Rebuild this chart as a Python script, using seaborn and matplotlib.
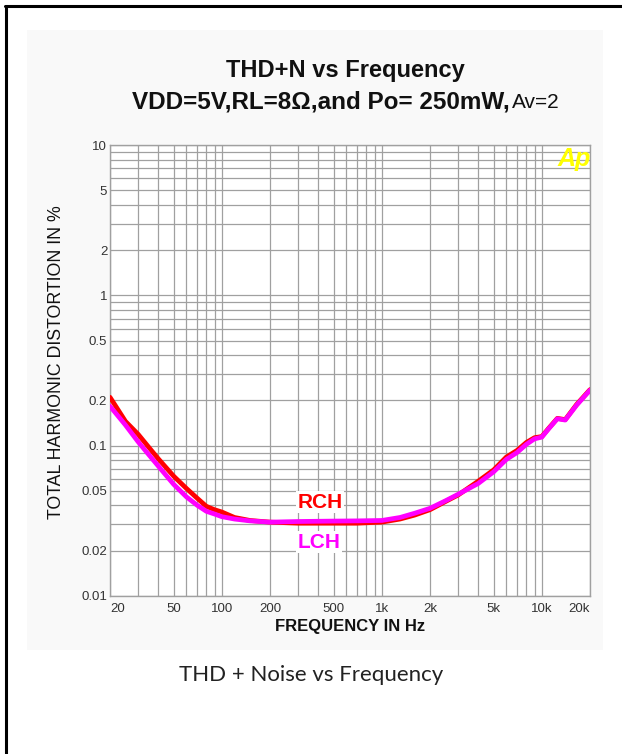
import matplotlib
matplotlib.use("Agg")
import matplotlib.pyplot as plt
import matplotlib.ticker as mticker
import pandas as pd
import seaborn as sns

# frequency points (Hz)
freq = [20, 25, 30, 35, 40, 50, 60, 70, 80, 90, 100, 120, 150, 200, 300, 500,
        700, 1000, 1300, 1600, 2000, 2500, 3000, 4000, 5000, 6000, 7000, 8000,
        9000, 10000, 11000, 12500, 14000, 16500, 20000]

# THD+N in %
rch = [0.21, 0.145, 0.119, 0.0974, 0.082, 0.0627, 0.052, 0.0448, 0.0395, 0.0375,
       0.0362, 0.0333, 0.0318, 0.031, 0.0305, 0.0305, 0.0305, 0.031, 0.0325,
       0.0345, 0.0375, 0.0425, 0.047, 0.058, 0.069, 0.084, 0.093, 0.105, 0.113,
       0.115, 0.13, 0.152, 0.149, 0.188, 0.236]
lch = [0.183, 0.137, 0.106, 0.0869, 0.0733, 0.0553, 0.0457, 0.0402, 0.0366,
       0.0351, 0.0337, 0.0325, 0.0316, 0.031, 0.0313, 0.0315, 0.0316, 0.0318,
       0.0333, 0.0355, 0.0383, 0.043, 0.0475, 0.056, 0.067, 0.081, 0.090, 0.102,
       0.111, 0.114, 0.129, 0.151, 0.148, 0.186, 0.234]

xtick_vals = [20, 50, 100, 200, 500, 1000, 2000, 5000, 10000, 20000]
xtick_labels = ["20", "50", "100", "200", "500", "1k", "2k", "5k", "10k", "20k"]
ytick_vals = [0.01, 0.02, 0.05, 0.1, 0.2, 0.5, 1, 2, 5, 10]
ytick_labels = ["0.01", "0.02", "0.05", "0.1", "0.2", "0.5", "1", "2", "5", "10"]

df = pd.concat([
    pd.DataFrame({"freq": freq, "thd": rch, "ch": "RCH"}),
    pd.DataFrame({"freq": freq, "thd": lch, "ch": "LCH"}),
])

sns.set_theme(style="white")
plt.rcParams["font.family"] = ["Liberation Sans", "DejaVu Sans"]

W, H = 622, 754
fig = plt.figure(figsize=(W / 100, H / 100), dpi=100)
fig.patch.set_facecolor("white")

# faint grey panel and black frame lines
fig.add_artist(plt.Rectangle((27 / W, 1 - 650 / H), 576 / W, 620 / H,
                             transform=fig.transFigure, facecolor="#f9f9f9",
                             edgecolor="none", zorder=0))
fig.add_artist(plt.Line2D([5 / W, 1], [1 - 6 / H, 1 - 6 / H], transform=fig.transFigure,
                          color="black", lw=2.2))
fig.add_artist(plt.Line2D([6 / W, 6 / W], [0, 1 - 6 / H], transform=fig.transFigure,
                          color="black", lw=2.2))

ax = fig.add_axes([110 / W, 1 - 596 / H, 480 / W, 451 / H])
ax.set_facecolor("white")
ax.set_xscale("log")
ax.set_yscale("log")

sns.lineplot(data=df, x="freq", y="thd", hue="ch", hue_order=["RCH", "LCH"],
             palette={"RCH": "#ff0000", "LCH": "#ff00ff"}, linewidth=3.4,
             legend=False, ax=ax, zorder=3)

ax.set_xlim(20, 20000)
ax.set_ylim(0.01, 10)

xgrid = [m * 10 ** e for e in range(1, 4) for m in range(1, 10)] + [10000, 20000]
xgrid = [v for v in xgrid if v >= 20]
ygrid = [m * 10 ** e for e in range(-2, 1) for m in range(1, 10)] + [10]
ax.set_xticks(xgrid, minor=True)
ax.set_yticks(ygrid, minor=True)
ax.xaxis.set_minor_formatter(mticker.NullFormatter())
ax.yaxis.set_minor_formatter(mticker.NullFormatter())
ax.set_xticks(xtick_vals, labels=xtick_labels)
ax.set_yticks(ytick_vals, labels=ytick_labels)
ax.grid(True, which="both", color="#a0a0a0", lw=0.9)
ax.tick_params(which="both", length=0, labelsize=9.5, labelcolor="#333333")
ax.tick_params(axis="x", pad=5)
ax.tick_params(axis="y", pad=2)
xl = ax.get_xticklabels()
xl[0].set_ha("left")
xl[-1].set_ha("right")
for s in ax.spines.values():
    s.set_color("#a0a0a0")
    s.set_linewidth(1)

ax.set_xlabel("FREQUENCY IN Hz", fontsize=12, weight="bold", color="#111111", labelpad=3)
ax.set_ylabel("TOTAL HARMONIC DISTORTION IN %", fontsize=12.75, color="#111111")
ax.yaxis.set_label_coords(-0.094, 0.518)

ax.text(298, 0.042, "RCH", color="#ff0000", fontsize=15, weight="bold", va="center",
        ha="left", zorder=4,
        bbox=dict(facecolor="white", edgecolor="none", pad=1))
ax.text(298, 0.0228, "LCH", color="#ff00ff", fontsize=15, weight="bold", va="center",
        ha="left", zorder=4,
        bbox=dict(facecolor="white", edgecolor="none", pad=1))

fig.text(574 / W, 1 - 159 / H, "Ap", color="#ffff00", fontsize=18, weight="bold",
         style="italic", ha="center", va="center")

fig.text(345 / W, 1 - 70 / H, "THD+N vs Frequency", fontsize=17, weight="bold",
         ha="center", va="center", color="#111111")
fig.text(510 / W, 1 - 102 / H, "VDD=5V,RL=8Ω,and Po= 250mW,", fontsize=17.5,
         weight="bold", ha="right", va="center", color="#111111")
fig.text(512 / W, 1 - 102 / H, "Av=2", fontsize=15, ha="left", va="center",
         color="#111111")

fig.text(311 / W, 1 - 675 / H, "THD + Noise vs Frequency", fontsize=16,
         family=["Lato", "DejaVu Sans"], ha="center", va="center", color="#222222")

fig.savefig("out.png", dpi=100)
